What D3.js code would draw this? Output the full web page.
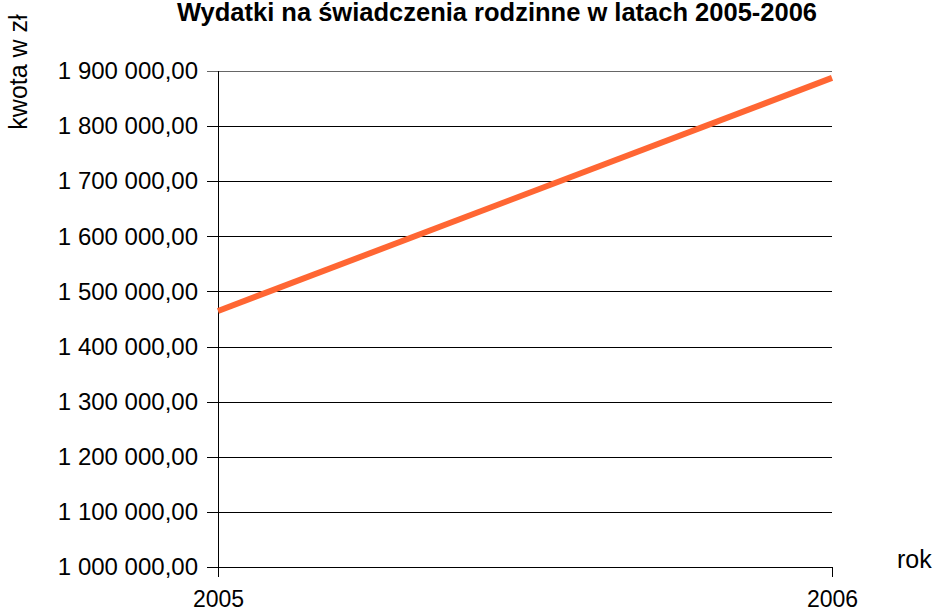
<!DOCTYPE html>
<html>
<head>
<meta charset="utf-8">
<script src="https://cdn.jsdelivr.net/npm/d3@7"></script>
<style>
  body { margin: 0; background: #fff; }
  svg { display: block; font-family: "Liberation Sans", Arial, sans-serif; }
</style>
</head>
<body>
<svg id="chart" width="939" height="612"></svg>
<script>
// data
var years = ["2005", "2006"]
var amounts = [1464600, 1887500]
var yTicks = [1000000, 1100000, 1200000, 1300000, 1400000, 1500000, 1600000, 1700000, 1800000, 1900000]

var title = "Wydatki na świadczenia rodzinne w latach 2005-2006"
var yTitle = "kwota w zł"
var xTitle = "rok"

// plot box (named so they don't clash with window.top)
var plotL = 218, plotR = 832, plotT = 71, plotB = 567

var plLocale = d3.formatLocale({ decimal: ",", thousands: " ", grouping: [3], currency: ["", " zł"] })
var fmt = plLocale.format(",.2f")

var svg = d3.select("#chart")

var x = d3.scalePoint().domain(years).range([plotL, plotR])
var y = d3.scaleLinear().domain([1000000, 1900000]).range([plotB, plotT])

// gridlines + y ticks
var yAxis = d3.axisLeft(y)
    .tickValues(yTicks)
    .tickSize(-(plotR - plotL))
    .tickSizeOuter(0)
    .tickPadding(20)
    .tickFormat(fmt)

var gy = svg.append("g")
    .attr("transform", "translate(" + plotL + ",0)")
    .call(yAxis)
gy.select(".domain").remove()
gy.selectAll(".tick line")
    .attr("x1", -11)
    .attr("stroke", d => d == 1900000 ? "#666" : "#000")
    .attr("stroke-width", d => d == 1900000 ? 1.5 : 1)
    .attr("shape-rendering", "crispEdges")
gy.selectAll(".tick text")
    .attr("font-size", 24)
    .attr("fill", "#000")

// left axis line (runs a little below the baseline)
svg.append("line")
    .attr("x1", plotL).attr("x2", plotL)
    .attr("y1", plotT).attr("y2", plotB + 10)
    .attr("stroke", "#000")
    .attr("shape-rendering", "crispEdges")

// x axis
var xAxis = d3.axisBottom(x).tickSize(10).tickSizeOuter(0).tickPadding(14)
var gx = svg.append("g")
    .attr("transform", "translate(0," + plotB + ")")
    .call(xAxis)
gx.select(".domain").attr("stroke", "#000").attr("shape-rendering", "crispEdges")
gx.selectAll(".tick line").attr("stroke", "#000").attr("shape-rendering", "crispEdges")
gx.selectAll(".tick text").attr("font-size", 23).attr("fill", "#000")

// series line
var line = d3.line()
    .x((d, i) => x(years[i]))
    .y(d => y(d))

svg.append("path")
    .datum(amounts)
    .attr("d", line)
    .attr("fill", "none")
    .attr("stroke", "#ff6633")
    .attr("stroke-width", 6)

// titles
svg.append("text")
    .attr("x", 497)
    .attr("y", 21)
    .attr("text-anchor", "middle")
    .attr("font-size", 25.5)
    .attr("font-weight", "bold")
    .text(title)

svg.append("text")
    .attr("transform", "translate(27,72) rotate(-90)")
    .attr("text-anchor", "middle")
    .attr("font-size", 25)
    .text(yTitle)

svg.append("text")
    .attr("x", 897)
    .attr("y", 568)
    .attr("font-size", 25)
    .text(xTitle)
</script>
</body>
</html>
